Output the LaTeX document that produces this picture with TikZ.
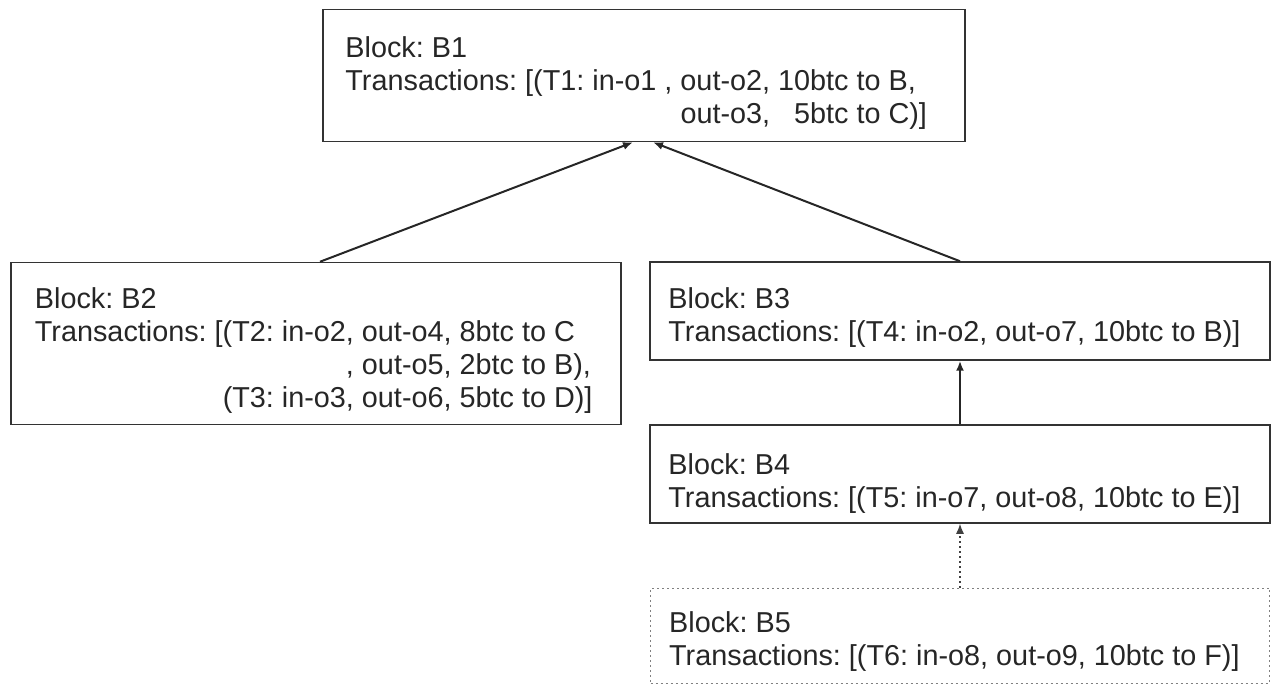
\documentclass[tikz,border=0pt]{standalone}
\usepackage{fontspec}
\setmainfont{Liberation Sans}
\frenchspacing
\usetikzlibrary{arrows,arrows.meta,positioning}

\begin{document}
\begin{tikzpicture}[x=1pt,y=-1pt]
\tikzstyle{block} = [draw=black!80,line width=1.5pt,shape=rectangle,inner sep=0pt]
\tikzstyle{pending} = [draw=black!50,line width=1pt,dash pattern=on 2pt off 3pt,shape=rectangle,inner sep=0pt]
\tikzstyle{btext} = [inner sep=0pt,align=left,text=black!85,font=\fontsize{28.8}{33}\selectfont]
\tikzstyle{link} = [-{Latex[length=10pt,width=8pt]},line width=2pt,draw=black!85]
\tikzstyle{plink} = [-{Latex[length=10pt,width=8pt]},line width=1.3pt,draw=black!75,dash pattern=on 2pt off 3pt]

\useasboundingbox (0,0) rectangle (1277,684);

% blocks
\node[block,minimum width=642pt,minimum height=132pt] (b1) at (644,75.5) {};
\node[block,minimum width=610pt,minimum height=162pt] (b2) at (316,343.5) {};
\node[block,minimum width=620pt,minimum height=98pt] (b3) at (960,311) {};
\node[block,minimum width=620pt,minimum height=98pt] (b4) at (960,474) {};
\node[pending,minimum width=619pt,minimum height=95pt] (b5) at (960,635.5) {};

% block contents
\node[btext,below right=28pt and 23pt of b1.north west] (t1) {Block: B1\\Transactions: [(T1: in-o1 , out-o2, 10btc to B,\\\hphantom{Transactions: [(T1: in-o1 , }out-o3,\ \ \ 5btc to C)]};
\node[btext,below right=26pt and 24.5pt of b2.north west] (t2) {Block: B2\\Transactions: [(T2: in-o2, out-o4, 8btc to C\\\hphantom{Transactions: [(T2: in-o2}, out-o5, 2btc to B),\\\hphantom{Transactions: [}(T3: in-o3, out-o6, 5btc to D)]};
\node[btext,below right=26pt and 19pt of b3.north west] (t3) {Block: B3\\Transactions: [(T4: in-o2, out-o7, 10btc to B)]};
\node[btext,below right=29pt and 19pt of b4.north west] (t4) {Block: B4\\Transactions: [(T5: in-o7, out-o8, 10btc to E)]};
\node[btext,below right=24pt and 19pt of b5.north west] (t5) {Block: B5\\Transactions: [(T6: in-o8, out-o9, 10btc to F)]};

% chain
\draw[link] ([xshift=4pt]b2.north) -- ([xshift=-11pt]b1.south);
\draw[link] (b3.north) -- ([xshift=9pt]b1.south);
\draw[link] (b4.north) -- (b3.south);
\draw[plink] (b5.north) -- (b4.south);

\end{tikzpicture}
\end{document}
